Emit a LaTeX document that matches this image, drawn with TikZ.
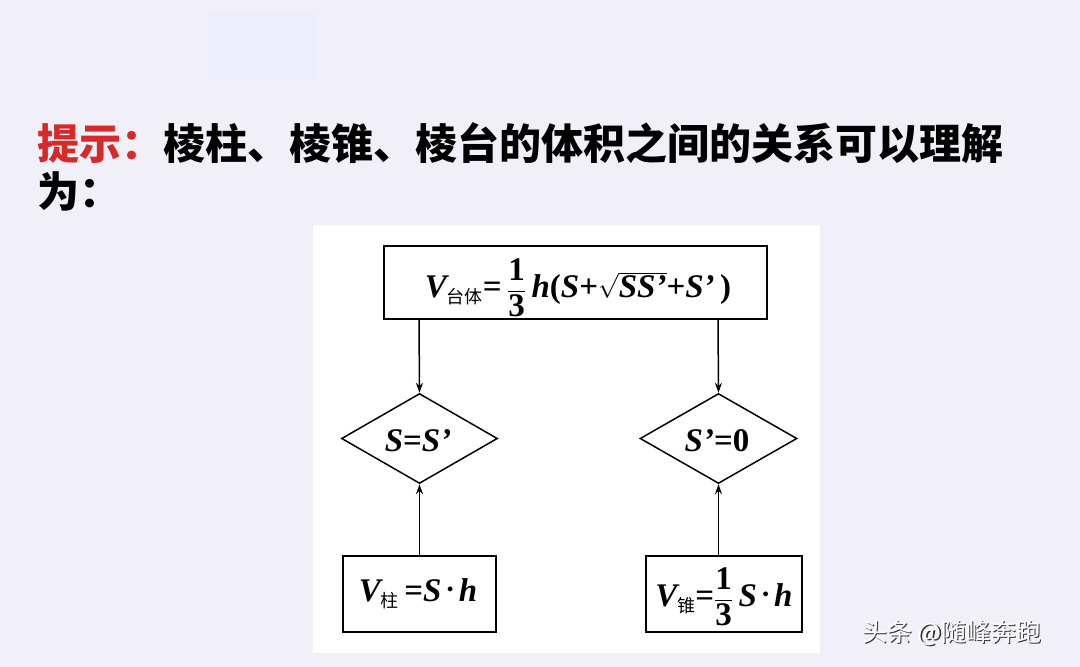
\documentclass[tikz,border=0pt]{standalone}
\usepackage{fontspec}
\usepackage{amsmath}
\setmainfont{Liberation Serif}
\newfontfamily\cjk{Noto Sans CJK SC}
\usetikzlibrary{shapes.geometric,arrows.meta}
\definecolor{bgc}{HTML}{F1F0F9}
\definecolor{faint}{HTML}{ECEEFB}
\definecolor{hint}{HTML}{D62A2A}
\newcommand{\bi}[1]{{\bfseries\itshape #1}}
\newcommand{\bfr}{\ensuremath{\genfrac{}{}{1pt}{0}{\text{\bfseries 1}}{\text{\bfseries 3}}}}
\newcommand{\sub}[1]{\raisebox{-6pt}{\fontsize{18}{18}\selectfont\cjk #1}}
\newcommand{\mdot}{\,\raisebox{0.28em}{\scalebox{0.5}{$\bullet$}}\,}
\tikzset{
  box/.style={draw=black,line width=1.5pt,fill=white,inner sep=0pt},
  dia/.style={diamond,draw=black,line width=1.5pt,fill=white,inner sep=0pt,aspect=1.7},
  conn/.style={draw=black,line width=1.5pt,-{Stealth[length=10pt,width=7pt]}},
  formula/.style={font=\fontsize{33}{36}\selectfont},
}
\begin{document}
\begin{tikzpicture}[x=1pt,y=-1pt]
\useasboundingbox (0,0) rectangle (1080,667);
\fill[bgc] (0,0) rectangle (1080,667);
\fill[faint] (208,14) rectangle (318,80);
% title
\node[anchor=west,inner sep=0pt,font=\cjk\bfseries\fontsize{42}{42}\selectfont] (t1) at (37,143) {\textcolor{hint}{提示：}棱柱、棱锥、棱台的体积之间的关系可以理解};
\node[anchor=west,inner sep=0pt,font=\cjk\bfseries\fontsize{42}{42}\selectfont] (t2) at (37,191) {为：};
% panel
\fill[white] (313,225) rectangle (820,653);
% top box
\node[box,minimum width=383pt,minimum height=73pt] (top) at (575.5,282.5) {};
\node[formula,inner sep=0pt] (topt) at (578,288) {\bi{V}\sub{台体}\textbf{=}\,\bfr\,\bi{h}\textbf{(}\bi{S}\textbf{+}$\sqrt{\text{\bi{SS'}}}$\textbf{+}\bi{S'}\,\textbf{)}};
% diamonds
\node[dia,minimum width=156pt,minimum height=90pt] (d1) at (419.5,438.5) {};
\node[formula,inner sep=0pt] at (418,441) {\bi{S}\textbf{=}\bi{S'}};
\node[dia,minimum width=157pt,minimum height=90pt] (d2) at (718.5,438.5) {};
\node[formula,inner sep=0pt] at (717,441) {\bi{S'}\textbf{=0}};
% bottom boxes
\node[box,minimum width=153pt,minimum height=76pt] (b1) at (419.5,594) {};
\node[formula,inner sep=0pt] at (418,594) {\bi{V}\sub{柱}\,\textbf{=}\bi{S}\mdot\bi{h}};
\node[box,minimum width=156pt,minimum height=76pt] (b2) at (724,594) {};
\node[formula,inner sep=0pt] at (724,597) {\bi{V}\sub{锥}\textbf{=}\bfr\,\bi{S}\mdot\bi{h}};
% connectors
\coordinate (tl) at (419,319);
\coordinate (tr) at (718,319);
\draw[conn] (tl) -- (d1.north);
\draw[conn] (tr) -- (d2.north);
\draw[conn] (b1.north -| d1.south) -- (d1.south);
\draw[conn] (b2.north -| d2.south) -- (d2.south);
% watermark
\node[anchor=west,inner sep=0pt,text=black!80,font=\cjk\fontsize{25}{25}\selectfont] (wms) at (863.5,634.5) {头条 @随峰奔跑};
\node[anchor=west,inner sep=0pt,text=white,font=\cjk\fontsize{25}{25}\selectfont] (wm) at (862,633) {头条 @随峰奔跑};
\end{tikzpicture}
\end{document}
